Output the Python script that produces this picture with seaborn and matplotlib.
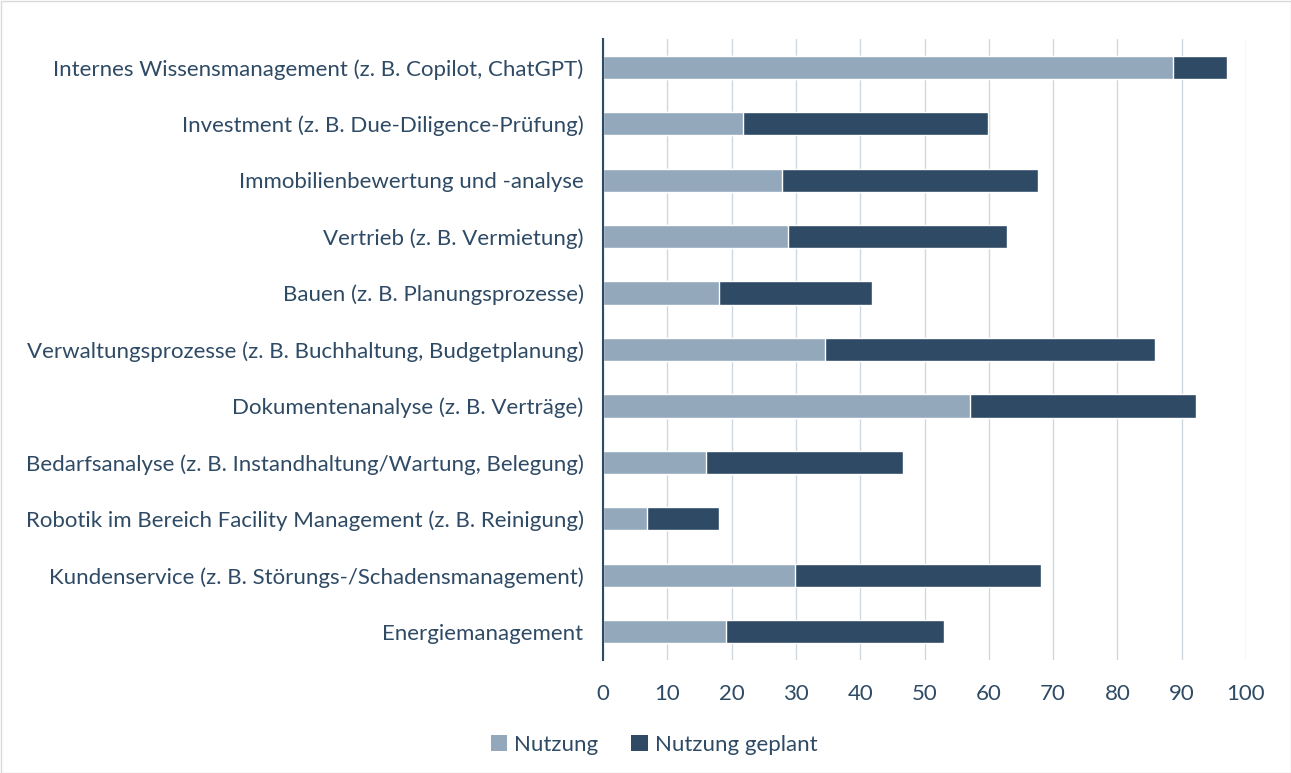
import matplotlib
matplotlib.use("Agg")
import matplotlib.pyplot as plt
import seaborn as sns
import pandas as pd
from matplotlib.patches import Patch, Rectangle

categories = [
    "Internes Wissensmanagement (z. B. Copilot, ChatGPT)",
    "Investment (z. B. Due-Diligence-Prüfung)",
    "Immobilienbewertung und -analyse",
    "Vertrieb (z. B. Vermietung)",
    "Bauen (z. B. Planungsprozesse)",
    "Verwaltungsprozesse (z. B. Buchhaltung, Budgetplanung)",
    "Dokumentenanalyse (z. B. Verträge)",
    "Bedarfsanalyse (z. B. Instandhaltung/Wartung, Belegung)",
    "Robotik im Bereich Facility Management (z. B. Reinigung)",
    "Kundenservice (z. B. Störungs-/Schadensmanagement)",
    "Energiemanagement",
]
nutzung = [88.6, 21.7, 27.8, 28.8, 18.0, 34.6, 57.1, 16.0, 6.8, 29.9, 19.2]
nutzung_geplant = [8.5, 38.2, 39.9, 34.0, 23.8, 51.2, 35.2, 30.6, 11.3, 38.2, 33.9]
series_labels = ["Nutzung", "Nutzung geplant"]
x_ticks = [0, 10, 20, 30, 40, 50, 60, 70, 80, 90, 100]

light = "#94A8BC"
dark = "#2E4A65"
text_col = "#2E4A65"
grid_col = "#CFD8E1"

df = pd.DataFrame({
    "cat": categories,
    "nutzung": nutzung,
    "total": [a + b for a, b in zip(nutzung, nutzung_geplant)],
})

sns.set_theme(style="white")
plt.rcParams["font.family"] = ["Lato", "DejaVu Sans"]
fs = 16

fig = plt.figure(figsize=(12.91, 7.73), dpi=100)
ax = fig.add_axes([603 / 1291, 1 - 660 / 773, (1246 - 603) / 1291, (660 - 39) / 773])

sns.barplot(data=df, x="total", y="cat", color=dark, saturation=1, width=0.41, ax=ax, zorder=3)
sns.barplot(data=df, x="nutzung", y="cat", color=light, saturation=1, width=0.41, ax=ax, zorder=4)

ax.set_xlim(0, 100)
ax.set_ylim(len(categories) - 0.5, -0.5)
ax.set_xticks(x_ticks)
ax.set_xticklabels([str(t) for t in x_ticks])
ax.set_xlabel("")
ax.set_ylabel("")
ax.xaxis.grid(True, color=grid_col, linewidth=1.0, zorder=0)
ax.yaxis.grid(False)
ax.set_axisbelow(True)
for s in ["top", "right", "bottom"]:
    ax.spines[s].set_visible(False)
ax.spines["left"].set_color(dark)
ax.spines["left"].set_linewidth(1.5)
ax.spines["left"].set_zorder(5)
ax.tick_params(axis="y", length=0, pad=14, labelsize=fs, labelcolor=text_col)
ax.tick_params(axis="x", length=0, pad=17, labelsize=fs, labelcolor=text_col)

handles = [Patch(facecolor=light, edgecolor="none"), Patch(facecolor=dark, edgecolor="none")]
fig.legend(handles, series_labels, loc="center", bbox_to_anchor=(654 / 1291, 1 - 745 / 773),
           ncol=2, frameon=False, fontsize=fs, labelcolor=text_col,
           handlelength=0.75, handleheight=0.75, handletextpad=0.3, columnspacing=1.5)

fig.patches.append(Rectangle((0.5 / 1291, 0.5 / 773), 1 - 1 / 1291, 1 - 1 / 773,
                             transform=fig.transFigure, fill=False, edgecolor="#D9D9D9", linewidth=1))

fig.savefig("out.png", dpi=100)
